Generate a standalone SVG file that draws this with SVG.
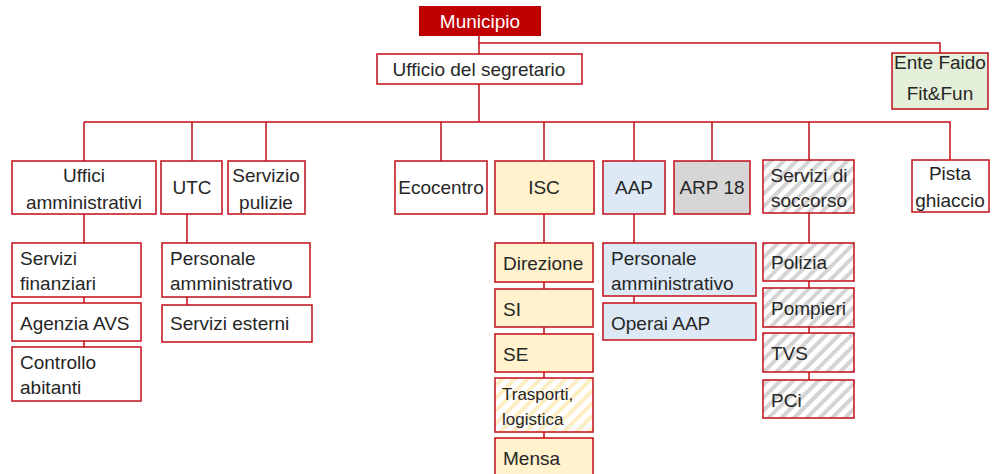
<svg xmlns="http://www.w3.org/2000/svg" width="995" height="474" viewBox="0 0 995 474">
<defs>
<pattern id="hatchGray" patternUnits="userSpaceOnUse" width="9" height="9" patternTransform="rotate(45)">
<rect width="9" height="9" fill="#ffffff"/>
<rect width="4" height="9" fill="#d4d4d4"/>
</pattern>
<pattern id="hatchYellow" patternUnits="userSpaceOnUse" width="9" height="9" patternTransform="rotate(45)">
<rect width="9" height="9" fill="#ffffff"/>
<rect width="4" height="9" fill="#fdeec4"/>
</pattern>
<style>
.b{fill:#ffffff;stroke:#c40c18;stroke-width:1.5}
.y{fill:#fff2cc;stroke:#c40c18;stroke-width:1.5}
.bl{fill:#dde9f5;stroke:#c40c18;stroke-width:1.5}
.g{fill:#d6d6d6;stroke:#c40c18;stroke-width:1.5}
.gr{fill:#e3efd9;stroke:#c40c18;stroke-width:1.5}
.hg{fill:url(#hatchGray);stroke:#c40c18;stroke-width:1.5}
.hy{fill:url(#hatchYellow);stroke:#c40c18;stroke-width:1.5}
.c{fill:none;stroke:#c40c18;stroke-width:1.5}
text{font-family:"Liberation Sans",Arial,sans-serif;font-size:19px;fill:#262626}
.m{text-anchor:middle}
.w{fill:#ffffff}
.s{font-size:17px}
</style>
</defs>
<g id="connectors">
<path class="c" d="M479 36V122M479 43H940V53M84 122H950V160M84 122V161M192 122V161M266 122V161M441 122V161M544 122V161M634 122V161M712 122V161M809 122V160"/>
<path class="c" d="M84 214V347M187 214V305M544 214V438M634 214V303M809 213V380"/>
</g>
<g id="municipio"><rect x="419" y="6" width="122" height="30" fill="#c00000"/><text class="m w" x="480" y="28">Municipio</text></g>
<g id="segretario"><rect class="b" x="377" y="54" width="205" height="30"/><text class="m" x="479" y="76">Ufficio del segretario</text></g>
<g id="ente-faido"><rect class="gr" x="892" y="53" width="96" height="56"/><text class="m" x="940" y="69">Ente Faido</text><text class="m" x="940" y="100">Fit&amp;Fun</text></g>
<g id="uffici-amm"><rect class="b" x="12" y="161" width="144" height="53"/><text class="m" x="84" y="182">Uffici</text><text class="m" x="84" y="209">amministrativi</text></g>
<g id="utc"><rect class="b" x="161" y="161" width="61" height="53"/><text class="m" x="192" y="194">UTC</text></g>
<g id="servizio-pulizie"><rect class="b" x="228" y="161" width="77" height="53"/><text class="m" x="266" y="182">Servizio</text><text class="m" x="266" y="209">pulizie</text></g>
<g id="ecocentro"><rect class="b" x="395" y="161" width="92" height="53"/><text class="m" x="441" y="194">Ecocentro</text></g>
<g id="isc"><rect class="y" x="495" y="161" width="99" height="53"/><text class="m" x="544" y="194">ISC</text></g>
<g id="aap"><rect class="bl" x="603" y="161" width="62" height="53"/><text class="m" x="634" y="194">AAP</text></g>
<g id="arp18"><rect class="g" x="674" y="161" width="76" height="53"/><text class="m" x="712" y="194">ARP 18</text></g>
<g id="soccorso"><rect class="hg" x="763" y="160" width="91" height="53"/><text class="m" x="809" y="182">Servizi di</text><text class="m" x="809" y="207">soccorso</text></g>
<g id="pista"><rect class="b" x="912" y="160" width="77" height="52"/><text class="m" x="950" y="180">Pista</text><text class="m" x="950" y="207">ghiaccio</text></g>
<g id="servizi-finanziari"><rect class="b" x="12" y="243" width="129" height="54"/><text x="20" y="265">Servizi</text><text x="20" y="290">finanziari</text></g>
<g id="agenzia-avs"><rect class="b" x="12" y="303" width="129" height="38"/><text x="20" y="330">Agenzia AVS</text></g>
<g id="controllo-abitanti"><rect class="b" x="12" y="347" width="129" height="54"/><text x="20" y="369">Controllo</text><text x="20" y="394">abitanti</text></g>
<g id="utc-personale"><rect class="b" x="162" y="243" width="148" height="54"/><text x="170" y="265">Personale</text><text x="170" y="290">amministrativo</text></g>
<g id="servizi-esterni"><rect class="b" x="162" y="305" width="150" height="37"/><text x="170" y="330">Servizi esterni</text></g>
<g id="direzione"><rect class="y" x="495" y="243" width="98" height="39"/><text x="503" y="270">Direzione</text></g>
<g id="si"><rect class="y" x="495" y="289" width="98" height="38"/><text x="503" y="316">SI</text></g>
<g id="se"><rect class="y" x="495" y="334" width="98" height="38"/><text x="503" y="361">SE</text></g>
<g id="trasporti"><rect class="hy" x="495" y="378" width="98" height="54"/><text class="s" x="502" y="400">Trasporti,</text><text class="s" x="502" y="425">logistica</text></g>
<g id="mensa"><rect class="y" x="495" y="438" width="98" height="40"/><text x="503" y="465">Mensa</text></g>
<g id="aap-personale"><rect class="bl" x="603" y="243" width="153" height="53"/><text x="611" y="265">Personale</text><text x="611" y="290">amministrativo</text></g>
<g id="operai-aap"><rect class="bl" x="603" y="303" width="153" height="37"/><text x="611" y="330">Operai AAP</text></g>
<g id="polizia"><rect class="hg" x="763" y="243" width="91" height="38"/><text x="771" y="269">Polizia</text></g>
<g id="pompieri"><rect class="hg" x="763" y="288" width="91" height="39"/><text x="771" y="315">Pompieri</text></g>
<g id="tvs"><rect class="hg" x="763" y="333" width="91" height="39"/><text x="771" y="360">TVS</text></g>
<g id="pci"><rect class="hg" x="763" y="380" width="91" height="38"/><text x="771" y="407">PCi</text></g>
</svg>
